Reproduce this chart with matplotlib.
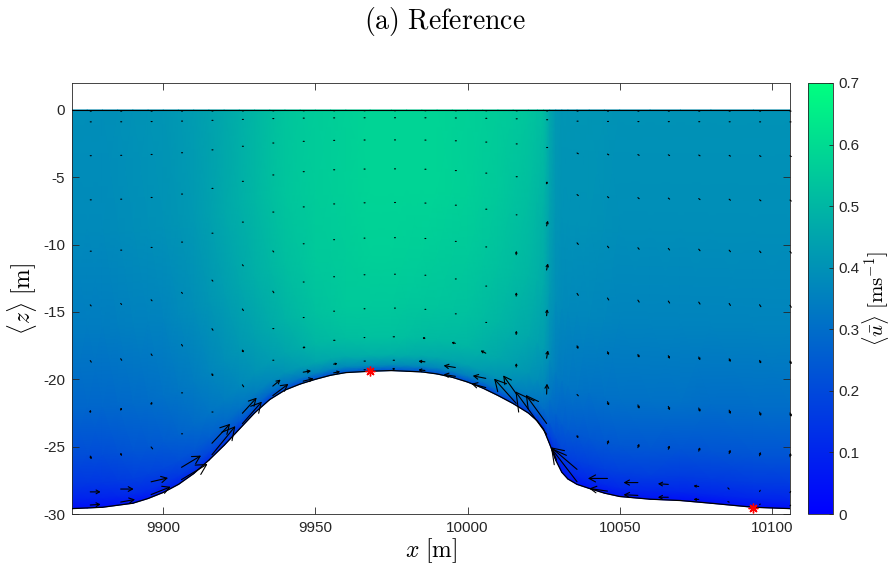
import numpy as np
import matplotlib
matplotlib.use('Agg')
import matplotlib.pyplot as plt
import matplotlib.transforms as mtrans

plt.rcParams['mathtext.fontset'] = 'cm'
plt.rcParams['axes.unicode_minus'] = False
plt.rcParams['font.family'] = ['Liberation Sans', 'DejaVu Sans']

# ---------------- data ----------------
# bed profile
x_bed = [9870, 9875, 9880, 9885, 9890, 9895, 9900, 9905, 9910, 9915, 9920, 9925,
         9930, 9935, 9940, 9945, 9950, 9955, 9960, 9968, 9975, 9980, 9985, 9990,
         9995, 10000, 10005, 10010, 10015, 10020, 10023, 10025, 10027, 10029,
         10031, 10033, 10036, 10040, 10045, 10050, 10060, 10070, 10080, 10094, 10106]
z_bed = [-29.6, -29.55, -29.5, -29.35, -29.2, -28.85, -28.4, -27.8, -27.0, -26.0, -24.9, -23.7,
         -22.5, -21.5, -20.8, -20.35, -20.0, -19.7, -19.5, -19.4, -19.35, -19.4, -19.45, -19.6,
         -19.85, -20.2, -20.65, -21.2, -21.8, -22.5, -23.1, -23.7, -24.8, -26.0,
         -26.9, -27.4, -27.8, -28.1, -28.45, -28.7, -28.9, -29.0, -29.2, -29.5, -29.6]
z_surface = 0.0

# mean horizontal velocity at stations x_u and terrain-following levels sigma_levels
x_u = [9870, 9880, 9890, 9900, 9910, 9920, 9930, 9940, 9950, 9960, 9968, 9975,
       9990, 10000, 10010, 10020, 10025, 10028, 10030, 10035, 10040, 10050,
       10060, 10070, 10080, 10094, 10106]
sigma_levels = [0.0, 0.3, 0.55, 0.75, 0.87, 0.94, 0.98, 1.0]
u_mean = [
    [0.39, 0.39, 0.40, 0.41, 0.43, 0.46, 0.50, 0.54, 0.56, 0.57, 0.58, 0.58, 0.58, 0.57, 0.56, 0.54, 0.52, 0.43, 0.41, 0.41, 0.41, 0.40, 0.40, 0.40, 0.40, 0.40, 0.40],
    [0.38, 0.38, 0.39, 0.40, 0.42, 0.46, 0.50, 0.54, 0.56, 0.57, 0.58, 0.58, 0.58, 0.57, 0.55, 0.52, 0.49, 0.42, 0.40, 0.40, 0.40, 0.39, 0.39, 0.39, 0.39, 0.39, 0.39],
    [0.34, 0.34, 0.35, 0.36, 0.39, 0.43, 0.48, 0.52, 0.55, 0.56, 0.57, 0.57, 0.56, 0.55, 0.53, 0.50, 0.47, 0.40, 0.38, 0.37, 0.37, 0.36, 0.36, 0.36, 0.36, 0.36, 0.36],
    [0.28, 0.28, 0.29, 0.31, 0.34, 0.39, 0.44, 0.49, 0.53, 0.55, 0.55, 0.55, 0.54, 0.53, 0.50, 0.46, 0.43, 0.36, 0.33, 0.32, 0.31, 0.31, 0.31, 0.31, 0.30, 0.30, 0.30],
    [0.21, 0.21, 0.23, 0.25, 0.29, 0.34, 0.40, 0.45, 0.50, 0.52, 0.53, 0.53, 0.51, 0.50, 0.46, 0.41, 0.37, 0.29, 0.26, 0.24, 0.24, 0.24, 0.24, 0.23, 0.23, 0.23, 0.23],
    [0.15, 0.15, 0.17, 0.19, 0.23, 0.28, 0.34, 0.40, 0.45, 0.47, 0.48, 0.48, 0.46, 0.44, 0.40, 0.34, 0.30, 0.22, 0.19, 0.17, 0.17, 0.17, 0.17, 0.16, 0.16, 0.16, 0.16],
    [0.09, 0.09, 0.11, 0.13, 0.17, 0.21, 0.26, 0.31, 0.35, 0.37, 0.38, 0.38, 0.36, 0.34, 0.31, 0.26, 0.22, 0.15, 0.12, 0.11, 0.11, 0.11, 0.10, 0.10, 0.10, 0.10, 0.10],
    [0.04, 0.04, 0.05, 0.07, 0.10, 0.13, 0.16, 0.19, 0.21, 0.22, 0.22, 0.22, 0.21, 0.20, 0.18, 0.15, 0.13, 0.08, 0.06, 0.05, 0.05, 0.05, 0.05, 0.04, 0.04, 0.04, 0.04],
]

x_arrows = [9876, 9886, 9896, 9906, 9916, 9926, 9936, 9946, 9956, 9966, 9976, 9986,
            9996, 10006, 10016, 10026, 10036, 10046, 10056, 10066, 10076, 10086, 10096, 10106]
sigma_arrows = [0.003, 0.03, 0.115, 0.226, 0.355, 0.49, 0.63, 0.76, 0.87, 0.96, 0.993]
# arrow components (display-scaled perturbation velocity)
du_arrows = [
    [0.8, 0.8, 0.8, 0.8, 0.8, 0.8, 0.8, 0.8, 0.8, 0.8, 0.8, 0.8, 0.8, 0.8, 0.8, 0.8, 0.8, 0.8, 0.8, 0.8, 0.8, 0.8, 0.8, 0.8],
    [0.8, 0.8, 0.8, 0.8, 0.8, 0.8, 0.8, 0.8, 0.8, 0.8, 0.8, 0.8, 0.8, 0.8, 0.8, 0.8, 0.8, 0.8, 0.8, 0.8, 0.8, 0.8, 0.8, 0.8],
    [0.8, 0.8, 0.8, 0.8, 0.8, 0.8, 0.8, 0.8, 0.8, 0.8, 0.8, 0.8, 0.8, 0.8, 0.8, 0.8, 1.0, 1.0, 1.0, 1.0, 1.0, 1.0, 1.0, 1.0],
    [0.8, 0.8, 0.8, 0.8, 0.8, 0.8, 0.8, 0.8, 0.8, 0.8, 0.8, 0.8, 0.8, 0.8, 0.8, 0.5, 1.0, 1.0, 1.0, 1.0, 1.0, 1.0, 1.0, 1.0],
    [0.8, 0.8, 0.8, 0.8, 0.8, 0.8, 0.8, 0.8, 0.8, 0.8, 0.8, 0.8, 0.8, 0.8, 0.6, 1.0, 1.0, 1.0, 1.0, 1.0, 1.0, 1.0, 1.0, 1.0],
    [0.7, 0.7, 0.7, 0.7, 0.7, 0.7, 0.7, 0.7, 0.7, 0.7, 0.7, 0.7, 0.7, 0.7, 0.2, 1.0, 1.0, 1.0, 1.0, 1.0, 1.0, 1.0, 1.0, 1.0],
    [0.8, 0.8, 0.8, 0.8, 0.8, 0.8, 0.8, 0.7, 0.7, 0.7, 0.7, 0.7, 0.7, 0.7, 0.2, 0.5, 1.0, 1.2, 1.2, 1.2, 1.2, 1.2, 1.2, 1.2],
    [0.2, 0.8, 0.8, 0.8, 1.0, 1.0, 0.8, 0.7, 0.7, 0.7, 0.7, 0.7, 0.7, 0.7, 0.2, 1.0, 1.0, 1.2, 1.2, 1.2, 1.2, 1.2, 1.2, 1.2],
    [1.0, 1.0, 1.2, 0.8, 0.8, 1.0, 0.8, 2.0, 1.0, 0.6, -1.0, -2.0, -3.0, -4.0, 0.2, 0.3, 1.0, 1.0, 1.0, 1.0, 1.0, 1.0, 0.8, 0.6],
    [8, 10, 13, 15, 14, 11, 6, 6, 3, 1, -1, -5, -9, -10, -10, -16, -20, -15, -11, -8, -4, -1, 0.5, 0.5],
    [8, 11, 15, 20, 18, 15, 12, 8, 5, 1, -2, -5, -9, -11, -17, -24, -20, -14, -11, -8, -4, -1, 0.5, 0.5],
]
dw_arrows = [
    [0, 0, 0, 0, 0, 0, 0, 0, 0, 0, 0, 0, 0, 0, 0, 0, 0, 0, 0, 0, 0, 0, 0, 0],
    [0, 0, 0, 0, 0, 0, 0, 0, 0, 0, 0, 0, 0, 0, 0, 0, 0, 0, 0, 0, 0, 0, 0, 0],
    [0, 0, 0, 0, 0, 0, 0, 0, 0, 0, 0, 0, 0, 0, 0, 0, -0.6, -0.6, -0.6, -0.6, -0.6, -0.6, -0.6, -0.6],
    [0, 0, 0, 0, 0, 0, 0, 0, 0, 0, 0, 0, 0, 0, 0, 2, -0.8, -0.8, -0.8, -0.8, -0.8, -0.8, -0.8, -0.8],
    [0, 0, 0, 0, 0, 0, 0, 0, 0, 0, 0, 0, 0, 0, 0, 4, -1.2, -1.2, -1.2, -1.2, -1.2, -1.2, -1.2, -1.2],
    [-0.8, -0.8, -0.8, -0.8, -0.8, -0.8, -0.8, 0, 0, 0, 0, 0, 0, 0, 3, 5, -1.5, -1.5, -1.5, -1.5, -1.5, -1.5, -1.5, -1.5],
    [-1.2, -1.2, -1.2, -1.2, -1.2, -1.2, -1.2, 0, 0, 0, 0, 0, 0, 0, 3, 5, -2.5, -2.5, -2.5, -2.5, -2.5, -2.5, -2.5, -2.5],
    [2, 2, 2, 0, -2, -2, 0, 0, 0, 0, 0, 0, 0, 0, 3, 6, -1, -3, -3, -3, -3, -3, -3, -3],
    [-2.5, -2.0, -1.5, 0, 0, -1.5, 0, 0.3, 0, 0, 0, 0.3, 0.8, 2.0, 3, 8, -2, 3, 3, 3, 3, 3, 3, 3],
    [0, 0, 3, 9, 15, 12, 5, 1, 0.5, 0, 0, 0.5, 1.5, 2, 14, 22, 17, 0, 0, 0.5, 0.5, 1, 1, 1],
    [0.5, 2, 6, 12, 22, 17, 9, 2, 1, 0, 0, 0.5, 1.5, 3, 19, 33, 26, 2, 0.5, 0, 0, 0.5, 0.5, 0.5],
]

marker_x = [9968, 10094]
marker_z = [-19.4, -29.55]

xlim = [9870, 10106]
ylim = [-30, 2]
x_ticks = [9900, 9950, 10000, 10050, 10100]
y_ticks = [-30, -25, -20, -15, -10, -5, 0]
c_ticks = [0, 0.1, 0.2, 0.3, 0.4, 0.5, 0.6, 0.7]
c_ticklabels = ['0', '0.1', '0.2', '0.3', '0.4', '0.5', '0.6', '0.7']

# ---------------- figure ----------------
W, H = 890, 566
fig = plt.figure(figsize=(W / 100, H / 100), dpi=100)
ax = fig.add_axes([72 / W, 1 - 514 / H, (790 - 72) / W, (514 - 83) / H])
cax = fig.add_axes([808 / W, 1 - 514 / H, 25 / W, (514 - 83) / H])

gray = (0.15, 0.15, 0.15)

# terrain-following mesh whose bottom row follows the bed line
xb = np.array(x_bed, float)
u_nodes = np.array([np.interp(xb, x_u, row) for row in u_mean])
Xg = np.tile(xb, (len(sigma_levels), 1))
Zg = z_surface + np.array(sigma_levels)[:, None] * (np.array(z_bed)[None, :] - z_surface)
pcm = ax.pcolormesh(Xg, Zg, u_nodes, shading='gouraud', cmap='winter',
                    vmin=0, vmax=0.7)

ax.plot(x_bed, z_bed, color='k', lw=0.9, zorder=3)
ax.axhline(z_surface, color='k', lw=0.8, zorder=3)

arrow_gain = 1.3
zb_arr = np.interp(x_arrows, x_bed, z_bed)
for j, xa in enumerate(x_arrows):
    for i, s in enumerate(sigma_arrows):
        za = z_surface + s * (zb_arr[j] - z_surface)
        du = du_arrows[i][j] * arrow_gain
        dw = dw_arrows[i][j] * arrow_gain
        L = float(np.hypot(du, dw))
        if L == 0:
            continue
        tr = mtrans.offset_copy(ax.transData, fig=fig, x=du, y=dw, units='dots')
        Lpt = L * 0.72
        if L < 2.5:
            style = '-'
        else:
            style = f'->,head_length={0.33 * Lpt:.3f},head_width={0.18 * Lpt:.3f}'
        ax.annotate('', xy=(xa, za), xycoords=tr, xytext=(xa, za), textcoords='data',
                    arrowprops=dict(arrowstyle=style, lw=0.8, color='k',
                                    shrinkA=0, shrinkB=0, mutation_scale=1,
                                    capstyle='round'),
                    zorder=4)

ax.plot(marker_x, marker_z, linestyle='none', marker=(8, 2, 0), markersize=7,
        color='red', mew=1.0, zorder=5)

ax.set_xlim(xlim)
ax.set_ylim(ylim)
ax.set_xticks(x_ticks)
ax.set_yticks(y_ticks)
ax.set_xticklabels([str(v) for v in x_ticks])
ax.set_yticklabels([str(v) for v in y_ticks])
ax.tick_params(direction='in', length=5, width=0.6, top=True, right=True,
               labelsize=11, colors=gray, labelcolor=gray, pad=5)
for sp in ax.spines.values():
    sp.set_color(gray)
    sp.set_linewidth(0.6)

ax.set_xlabel(r'$x\ [\mathrm{m}]$', fontsize=17, labelpad=1)
ax.set_ylabel(r'$\langle z\rangle\ [\mathrm{m}]$', fontsize=17, labelpad=3)

cb = fig.colorbar(pcm, cax=cax, ticks=c_ticks)
cb.set_ticklabels(c_ticklabels)
cax.tick_params(direction='in', length=3, width=0.6, labelsize=11,
                colors=gray, labelcolor=gray, pad=4)
cb.outline.set_edgecolor(gray)
cb.outline.set_linewidth(0.6)
cax.set_ylabel(r'$\langle \bar{u}\rangle\ [\mathrm{ms}^{-1}]$', fontsize=15, labelpad=0)

fig.text(0.5, 1 - 22 / H, r'$\mathrm{(a)\ Reference}$', ha='center', va='center',
         fontsize=20)

fig.savefig('out.png', dpi=100, facecolor='white')
